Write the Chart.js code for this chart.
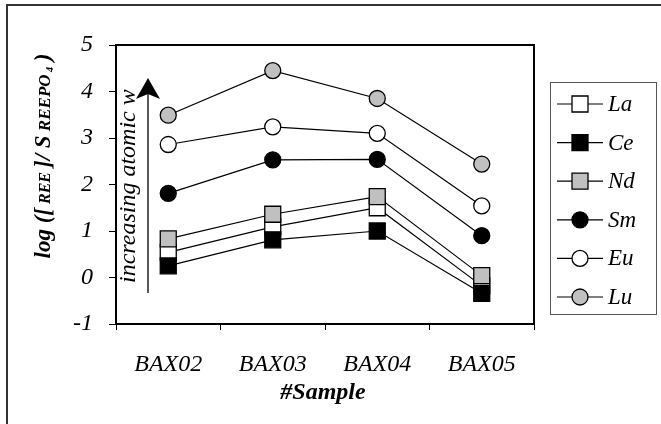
<!DOCTYPE html>
<html>
<head>
<meta charset="utf-8">
<script src="https://cdn.jsdelivr.net/npm/chart.js@4.4.1/dist/chart.umd.min.js"></script>
<style>
  html, body { margin: 0; padding: 0; background: #fff; }
  #wrap { width: 661px; height: 424px; position: relative; }
</style>
</head>
<body>
<div id="wrap"><canvas id="c" width="661" height="424"></canvas></div>
<script>
// Samples along the x axis
const samples = ['BAX02', 'BAX03', 'BAX04', 'BAX05'];

// log concentration ratio of each rare earth element per sample
const La = [0.54, 1.09, 1.50, -0.18];
const Ce = [0.25, 0.81, 1.00, -0.34];
const Nd = [0.83, 1.36, 1.74, 0.04];
const Sm = [1.81, 2.53, 2.54, 0.90];
const Eu = [2.86, 3.24, 3.10, 1.54];
const Lu = [3.49, 4.45, 3.85, 2.44];

const yTicks = [-1, 0, 1, 2, 3, 4, 5];

const SERIF = '"Liberation Serif", "Times New Roman", serif';
const GREY = '#c0c0c0';

function series(label, data, style, fill, order) {
  const isRect = style === 'rect';
  return {
    label, data, order,
    borderColor: '#000',
    borderWidth: 1.2,
    pointStyle: style,
    pointRadius: isRect ? 11.3 : 8,
    pointHoverRadius: isRect ? 11.3 : 8,
    pointBackgroundColor: fill,
    pointBorderColor: '#000',
    pointBorderWidth: 1.3,
    fill: false,
    tension: 0
  };
}

const datasets = [
  series('La', La, 'rect', '#fff', 3),
  series('Ce', Ce, 'rect', '#000', 2),
  series('Nd', Nd, 'rect', GREY, 1),
  series('Sm', Sm, 'circle', '#000', 0),
  series('Eu', Eu, 'circle', '#fff', 0),
  series('Lu', Lu, 'circle', GREY, 0)
];

// Frame, plot border, axis titles, arrow note and legend
const decorations = {
  id: 'decorations',
  afterDraw(chart) {
    const ctx = chart.ctx;
    const a = chart.chartArea;
    ctx.save();

    // outer frame (top and left edges)
    ctx.strokeStyle = '#333';
    ctx.lineWidth = 2;
    ctx.beginPath();
    ctx.moveTo(7, 424);
    ctx.lineTo(7, 5);
    ctx.lineTo(661, 5);
    ctx.stroke();

    // plot border
    ctx.strokeStyle = '#000';
    ctx.lineWidth = 2;
    ctx.strokeRect(a.left, a.top, a.right - a.left, a.bottom - a.top);

    // arrow and rotated note inside plot
    const ax = a.left + 32;
    ctx.lineWidth = 1.3;
    ctx.beginPath();
    ctx.moveTo(ax, 293);
    ctx.lineTo(ax, 92);
    ctx.stroke();
    ctx.fillStyle = '#000';
    ctx.beginPath();
    ctx.moveTo(ax, 78);
    ctx.lineTo(ax + 12, 99);
    ctx.lineTo(ax, 94);
    ctx.lineTo(ax - 12, 99);
    ctx.closePath();
    ctx.fill();

    ctx.save();
    ctx.translate(a.left + 13, 283);
    ctx.rotate(-Math.PI / 2);
    ctx.font = 'italic 24px ' + SERIF;
    ctx.textAlign = 'left';
    ctx.textBaseline = 'middle';
    ctx.fillText('increasing atomic w', 0, 0);
    ctx.restore();

    // y axis title, mixed sizes
    const parts = [
      { t: 'log ([', f: 'italic bold 23px ' + SERIF, dy: 0 },
      { t: ' REE ', f: 'italic bold 16px ' + SERIF, dy: 0 },
      { t: ']/ S', f: 'italic bold 23px ' + SERIF, dy: 0 },
      { t: ' REEPO', f: 'italic bold 17px ' + SERIF, dy: 0 },
      { t: ' 4', f: 'italic bold 10px ' + SERIF, dy: 3 },
      { t: ' )', f: 'italic bold 23px ' + SERIF, dy: 0 }
    ];
    let total = 0;
    parts.forEach(p => { ctx.font = p.f; p.w = ctx.measureText(p.t).width; total += p.w; });
    ctx.save();
    ctx.translate(42, 156);
    ctx.rotate(-Math.PI / 2);
    ctx.textBaseline = 'alphabetic';
    ctx.textAlign = 'left';
    let x = -total / 2;
    parts.forEach(p => {
      ctx.font = p.f;
      ctx.fillText(p.t, x, 8 + p.dy);
      x += p.w;
    });
    ctx.restore();

    // x axis title
    ctx.font = 'italic bold 24px ' + SERIF;
    ctx.textAlign = 'center';
    ctx.textBaseline = 'middle';
    ctx.fillText('#Sample', (a.left + a.right) / 2 - 2, 393);

    // legend
    const lx = 550, ly = 82, lw = 106, lh = 232;
    ctx.strokeStyle = '#555';
    ctx.lineWidth = 1;
    ctx.strokeRect(lx + 0.5, ly + 0.5, lw, lh);
    chart.data.datasets.forEach((ds, i) => {
      const y = 104 + i * 38.6;
      ctx.strokeStyle = '#000';
      ctx.lineWidth = 1.2;
      ctx.beginPath();
      ctx.moveTo(557, y);
      ctx.lineTo(603, y);
      ctx.stroke();
      ctx.fillStyle = ds.pointBackgroundColor;
      ctx.lineWidth = 1.3;
      ctx.beginPath();
      if (ds.pointStyle === 'rect') {
        ctx.rect(572, y - 8, 16, 16);
      } else {
        ctx.arc(580, y, 8, 0, Math.PI * 2);
      }
      ctx.fill();
      ctx.stroke();
      ctx.fillStyle = '#000';
      ctx.font = 'italic 23px ' + SERIF;
      ctx.textAlign = 'left';
      ctx.textBaseline = 'middle';
      ctx.fillText(ds.label, 608, y + 1);
    });

    ctx.restore();
  }
};

new Chart(document.getElementById('c'), {
  type: 'line',
  data: { labels: samples, datasets },
  options: {
    responsive: false,
    animation: false,
    events: [],
    layout: { padding: { left: 0, right: 127, top: 45, bottom: 0 } },
    plugins: { legend: { display: false }, tooltip: { enabled: false } },
    scales: {
      x: {
        offset: true,
        border: { display: false },
        grid: { offset: true, drawOnChartArea: false, color: '#000', tickLength: 6, lineWidth: 1 },
        ticks: {
          color: '#000',
          padding: 20,
          font: { family: SERIF, size: 24, style: 'italic' }
        },
        afterFit(scale) { scale.height = 100; }
      },
      y: {
        min: -1,
        max: 5,
        border: { display: false },
        afterBuildTicks(scale) { scale.ticks = yTicks.map(v => ({ value: v })); },
        grid: { drawOnChartArea: false, color: '#000', tickLength: 7, lineWidth: 1 },
        ticks: {
          color: '#000',
          padding: 16,
          font: { family: SERIF, size: 24, style: 'italic' }
        },
        afterFit(scale) { scale.width = 116; }
      }
    }
  },
  plugins: [decorations]
});
</script>
</body>
</html>
